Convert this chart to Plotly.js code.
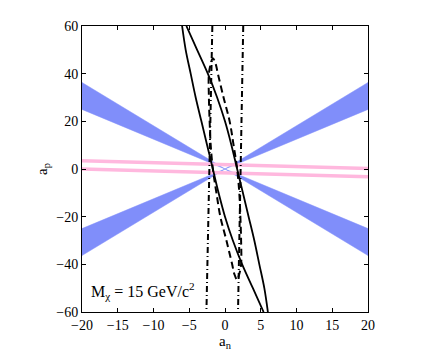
<!DOCTYPE html>
<html>
<head>
<meta charset="utf-8">
<script src="https://cdn.plot.ly/plotly-3.0.1.min.js"></script>
<style>
  body { margin: 0; background: #fff; }
  #chart { width: 436px; height: 353px; }
</style>
</head>
<body>
<div id="chart"></div>
<script>
// Blue bands (bowtie shapes through the origin), corner points
const bandA_x = [-20, 20, 20, -20, -20];
const bandA_y = [36.3, -36.3, -25, 25, 36.3];
const bandB_x = [-20, 20, 20, -20, -20];
const bandB_y = [-36.3, 36.3, 25, -25, -36.3];

// Pink lines
const pinkUpper_x = [-20, 20];
const pinkUpper_y = [3.5, 0.2];
const pinkLower_x = [-20, 20];
const pinkLower_y = [0.0, -3.3];

// Solid contour (clipped by the frame), two branches
const solidLeft_x = [-6.0, -5.5, -4.8, -4.1, -3.3, -2.5, -1.7, -0.9, 0.0, 1.1, 2.4, 3.9, 5.4];
const solidLeft_y = [60, 50, 40, 30, 20, 10, 0, -10, -20, -30, -40, -50, -60];
const solidRight_x = [-5.4, -3.9, -2.4, -1.1, 0.0, 0.9, 1.7, 2.5, 3.3, 4.1, 4.8, 5.5, 6.0];
const solidRight_y = [60, 50, 40, 30, 20, 10, 0, -10, -20, -30, -40, -50, -60];

// Dashed closed contour
const dashed_x = [-1.7, -1.3, -1.0, -0.2, 0.65, 1.2, 1.7, 2.0, 2.15, 2.25, 2.25, 2.0, 1.7,
                  1.3, 1.0, 0.2, -0.65, -1.2, -1.7, -2.0, -2.15, -2.25, -2.25, -2.0, -1.7];
const dashed_y = [46.5, 44, 40, 30, 20, 10, 0, -10, -20, -30, -40, -44, -46.5,
                  -44, -40, -30, -20, -10, 0, 10, 20, 30, 40, 44, 46.5];

// Dash-dot near-vertical lines
const dashdotLeft_x = [-1.77, -2.2, -2.6];
const dashdotLeft_y = [60, 0, -60];
const dashdotRight_x = [2.55, 2.2, 1.82];
const dashdotRight_y = [60, 0, -60];

const xTicks = [-20, -15, -10, -5, 0, 5, 10, 15, 20];
const yTicks = [-60, -40, -20, 0, 20, 40, 60];

const blue = 'rgb(128, 142, 250)';
const pink = 'rgb(255, 184, 222)';

const data = [
  { x: bandA_x, y: bandA_y, type: 'scatter', mode: 'lines', fill: 'toself',
    fillcolor: blue, line: { color: blue, width: 0.5 }, hoverinfo: 'skip' },
  { x: bandB_x, y: bandB_y, type: 'scatter', mode: 'lines', fill: 'toself',
    fillcolor: blue, line: { color: blue, width: 0.5 }, hoverinfo: 'skip' },
  { x: pinkUpper_x, y: pinkUpper_y, type: 'scatter', mode: 'lines',
    line: { color: pink, width: 3.5 } },
  { x: pinkLower_x, y: pinkLower_y, type: 'scatter', mode: 'lines',
    line: { color: pink, width: 3.5 } },
  { x: dashed_x, y: dashed_y, type: 'scatter', mode: 'lines',
    line: { color: 'black', width: 2, dash: '7px,4px', shape: 'spline' } },
  { x: dashdotLeft_x, y: dashdotLeft_y, type: 'scatter', mode: 'lines',
    line: { color: 'black', width: 2, dash: '6px,3px,1px,3px' } },
  { x: dashdotRight_x, y: dashdotRight_y, type: 'scatter', mode: 'lines',
    line: { color: 'black', width: 2, dash: '6px,3px,1px,3px' } },
  { x: solidLeft_x, y: solidLeft_y, type: 'scatter', mode: 'lines',
    line: { color: 'black', width: 1.8, shape: 'spline' } },
  { x: solidRight_x, y: solidRight_y, type: 'scatter', mode: 'lines',
    line: { color: 'black', width: 1.8, shape: 'spline' } }
];

const serif = '"Liberation Serif", "Times New Roman", Times, serif';

const axisCommon = {
  showgrid: false,
  zeroline: false,
  showline: true,
  linecolor: 'black',
  linewidth: 1,
  mirror: 'ticks',
  ticks: 'inside',
  ticklen: 4,
  tickcolor: 'black',
  tickfont: { family: serif, size: 14, color: 'black' }
};

const layout = {
  width: 436,
  height: 353,
  margin: { l: 82, r: 68, t: 26, b: 41 },
  paper_bgcolor: 'white',
  plot_bgcolor: 'white',
  showlegend: false,
  font: { family: serif, color: 'black' },
  xaxis: Object.assign({}, axisCommon, {
    range: [-20, 20],
    tickvals: xTicks,
    title: { text: 'a<sub>n</sub>', font: { family: serif, size: 15, color: 'black' }, standoff: 0 }
  }),
  yaxis: Object.assign({}, axisCommon, {
    range: [-60, 60],
    tickvals: yTicks,
    title: { text: 'a<sub>p</sub>', font: { family: serif, size: 15, color: 'black' }, standoff: 5 }
  }),
  annotations: [{
    x: -19, y: -51, xref: 'x', yref: 'y', xanchor: 'left', yanchor: 'middle',
    text: 'M<sub>χ</sub> = 15 GeV/c<sup>2</sup>', showarrow: false,
    font: { family: serif, size: 16, color: 'black' }
  }]
};

Plotly.newPlot('chart', data, layout, { displayModeBar: false, staticPlot: true });
</script>
</body>
</html>
